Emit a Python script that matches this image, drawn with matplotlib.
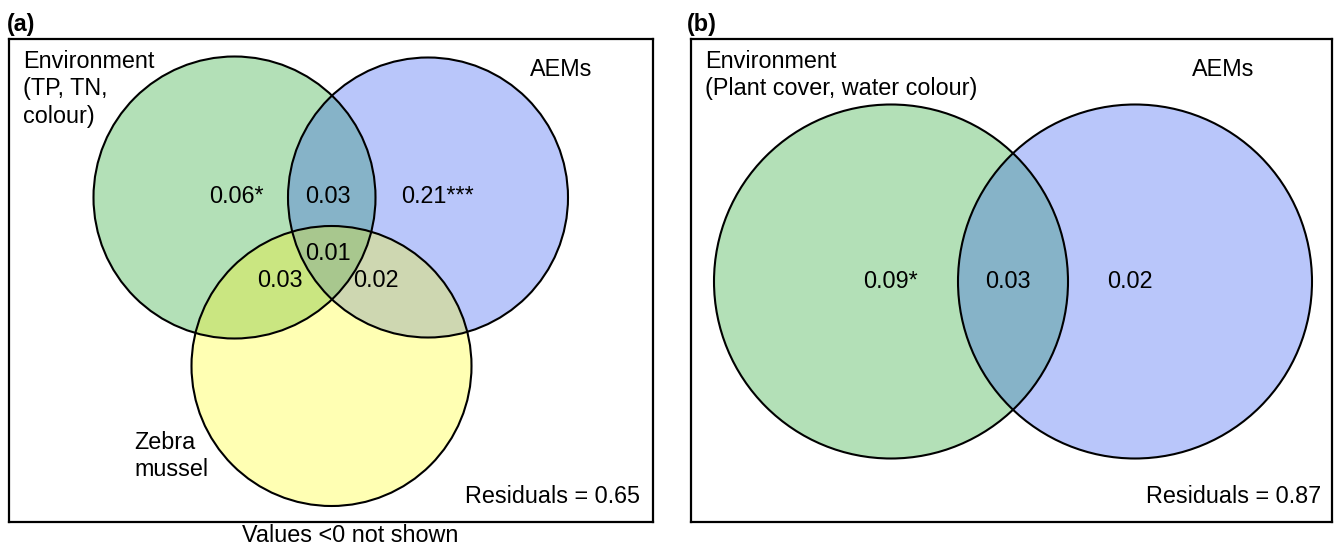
import numpy as np
import matplotlib.pyplot as plt
from matplotlib.patches import Circle
from matplotlib.colors import to_rgba

plt.rcParams['font.family'] = ['Liberation Sans', 'DejaVu Sans']

# variance partitioning values (as printed)
labels_a = ['Environment\n(TP, TN,\ncolour)', 'AEMs', 'Zebra\nmussel']
fractions_a = ['0.06*', '0.03', '0.21***', '0.03', '0.01', '0.02']
residual_a = 0.65

labels_b = ['Environment\n(Plant cover, water colour)', 'AEMs']
fractions_b = ['0.09*', '0.03', '0.02']
residual_b = 0.87

# layout (pixel units of the figure)
W, H = 1334, 548
box_a = (9, 653, 39, 522)
box_b = (691, 1332, 39, 522)
circles_a = [(234.5, 197.5, 141), (428, 197.5, 140), (331.5, 366, 140)]
circles_b = [(891, 281.5, 177), (1135, 281.5, 177)]
frac_pos_a = [(236, 203), (328, 203), (438, 203), (280, 287), (327.5, 260), (376, 287)]
frac_pos_b = [(890, 288), (1008, 288), (1130, 288)]

region_cols = {
    (1, 0, 0): '#B3E0B7',
    (0, 1, 0): '#B9C6FA',
    (1, 1, 0): '#86B3C8',
    (0, 0, 1): '#FFFFB3',
    (1, 0, 1): '#CAE681',
    (0, 1, 1): '#CED7B1',
    (1, 1, 1): '#A8C78E',
}

FS = 16.8
LS = 1.25

fig = plt.figure(figsize=(W / 100, H / 100), dpi=100)


def make_ax(box):
    x0, x1, y0, y1 = box
    ax = fig.add_axes([x0 / W, 1 - y1 / H, (x1 - x0) / W, (y1 - y0) / H])
    ax.set_xlim(x0, x1)
    ax.set_ylim(y1, y0)
    ax.set_xticks([])
    ax.set_yticks([])
    for s in ax.spines.values():
        s.set_linewidth(1.6)
    return ax


def fill_regions(ax, box, circles):
    x0, x1, y0, y1 = box
    xs = np.arange(x0, x1, 0.5) + 0.25
    ys = np.arange(y0, y1, 0.5) + 0.25
    X, Y = np.meshgrid(xs, ys)
    inside = [((X - cx) ** 2 + (Y - cy) ** 2 <= r ** 2).astype(int) for cx, cy, r in circles]
    while len(inside) < 3:
        inside.append(np.zeros_like(X, dtype=int))
    img = np.zeros(X.shape + (4,))
    for key, col in region_cols.items():
        m = (inside[0] == key[0]) & (inside[1] == key[1]) & (inside[2] == key[2])
        img[m] = to_rgba(col)
    ax.imshow(img, extent=(x0, x1, y1, y0), origin='upper', aspect='auto',
              interpolation='nearest', zorder=1)
    for cx, cy, r in circles:
        ax.add_patch(Circle((cx, cy), r, fill=False, ec='black', lw=1.5, zorder=2))


# panel (a)
ax = make_ax(box_a)
fill_regions(ax, box_a, circles_a)
for (x, y), t in zip(frac_pos_a, fractions_a):
    ax.text(x, y, t, ha='center', va='baseline', fontsize=FS, zorder=3)
ax.text(23, 50, labels_a[0], ha='left', va='top', fontsize=FS, linespacing=LS, zorder=3)
ax.text(561.5, 76.5, labels_a[1], ha='center', va='baseline', fontsize=FS, zorder=3)
ax.text(134, 431, labels_a[2], ha='left', va='top', fontsize=FS, linespacing=LS, zorder=3)
ax.text(640, 503, 'Residuals = %.2f' % residual_a, ha='right', va='baseline', fontsize=FS, zorder=3)
ax.text(7, 31, '(a)', ha='left', va='baseline', fontsize=FS, fontweight='bold', clip_on=False)
ax.text(350.5, 542, 'Values <0 not shown', ha='center', va='baseline', fontsize=FS, clip_on=False)

# panel (b)
ax = make_ax(box_b)
fill_regions(ax, box_b, circles_b)
for (x, y), t in zip(frac_pos_b, fractions_b):
    ax.text(x, y, t, ha='center', va='baseline', fontsize=FS, zorder=3)
ax.text(705, 50, labels_b[0], ha='left', va='top', fontsize=FS, linespacing=LS, zorder=3)
ax.text(1223, 76, labels_b[1], ha='center', va='baseline', fontsize=FS, zorder=3)
ax.text(1321, 503, 'Residuals = %.2f' % residual_b, ha='right', va='baseline', fontsize=FS, zorder=3)
ax.text(687, 31, '(b)', ha='left', va='baseline', fontsize=FS, fontweight='bold', clip_on=False)

fig.savefig('out.png', dpi=100)
